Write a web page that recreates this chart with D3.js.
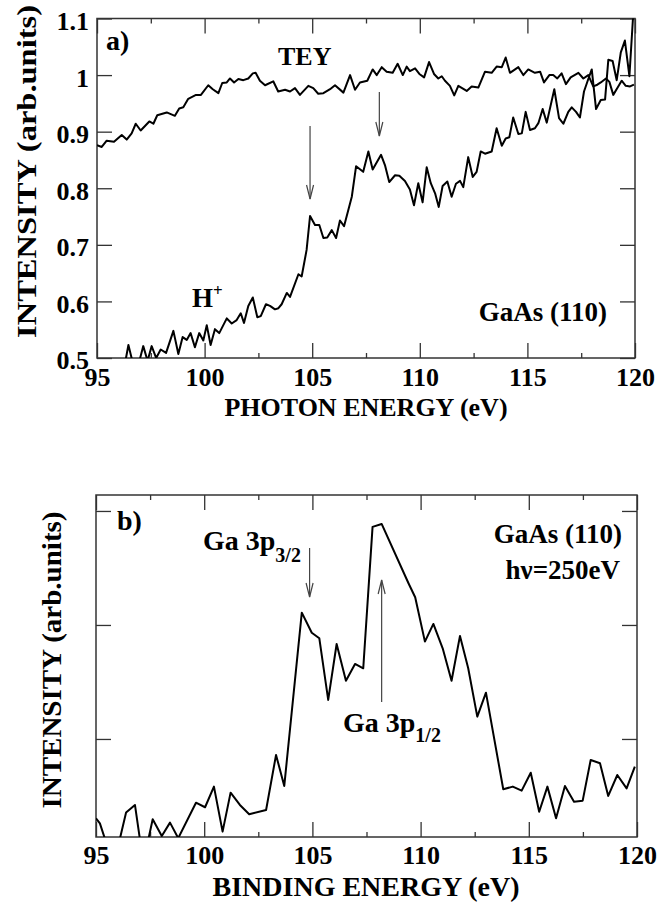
<!DOCTYPE html>
<html><head><meta charset="utf-8">
<script src="https://cdn.jsdelivr.net/npm/d3@7"></script>
<style>
body{margin:0;background:#fff;}
text{font-family:"Liberation Serif","DejaVu Serif",serif;font-weight:bold;fill:#000;}
</style></head>
<body><svg id="c" width="660" height="902"></svg>
<script>
// ---------- Panel a data ----------
const teyE = [95.00,95.22,95.45,95.79,96.15,96.38,96.61,96.80,97.03,97.43,97.62,97.80,98.24,98.62,98.82,99.01,99.24,99.60,99.83,100.17,100.38,100.64,100.82,101.03,101.18,101.37,101.57,101.80,102.03,102.24,102.37,102.57,102.81,103.19,103.42,103.74,103.97,104.20,104.43,104.82,105.05,105.28,105.52,105.83,106.06,106.45,106.76,106.99,107.22,107.56,107.81,108.00,108.23,108.46,108.74,108.97,109.21,109.39,109.54,109.78,109.98,110.20,110.43,110.66,110.86,111.02,111.17,111.40,111.60,111.79,112.18,112.41,112.72,113.03,113.34,113.57,113.81,113.99,114.19,114.58,114.81,115.04,115.35,115.59,115.77,116.02,116.20,116.39,116.59,116.79,117.01,117.37,117.60,117.83,118.06,118.25,118.41,118.65,118.81,118.99,119.18,119.38,119.57,119.77,119.95];
const teyV = [0.876,0.873,0.884,0.882,0.894,0.886,0.897,0.914,0.902,0.918,0.914,0.929,0.934,0.928,0.941,0.943,0.958,0.965,0.965,0.982,0.975,0.968,0.986,0.987,0.994,0.987,0.993,0.991,0.994,1.003,1.004,0.990,0.982,0.989,0.971,0.974,0.971,0.977,0.965,0.981,0.977,0.967,0.968,0.975,0.982,0.969,1.000,0.974,0.987,0.990,1.010,1.000,1.014,1.006,1.004,1.020,1.000,1.015,1.007,1.012,1.002,0.996,1.023,1.002,0.994,0.998,0.990,0.981,0.964,0.981,0.972,0.980,0.978,1.006,1.004,1.015,1.014,1.031,1.004,1.014,1.000,1.010,1.004,1.006,0.987,1.000,1.000,0.994,1.003,0.984,0.996,1.004,0.994,1.000,0.980,0.983,0.987,0.994,0.988,0.965,0.977,0.990,0.981,0.980,0.983];
const hE = [95.00,95.60,96.20,96.46,96.80,97.15,97.35,97.54,97.75,97.96,98.21,98.55,98.78,98.98,99.17,99.35,99.55,99.75,99.94,100.10,100.28,100.48,100.68,101.03,101.26,101.49,101.68,101.83,102.03,102.24,102.45,102.61,102.85,103.04,103.27,103.43,103.58,103.82,103.97,104.36,104.51,104.74,104.90,105.13,105.33,105.52,105.70,105.91,106.11,106.29,106.48,106.84,107.04,107.37,107.61,107.81,108.20,108.38,108.58,108.85,109.05,109.31,109.54,109.73,109.93,110.13,110.32,110.51,110.71,110.88,111.06,111.28,111.48,111.68,111.87,112.02,112.25,112.46,112.64,112.83,113.03,113.34,113.57,113.81,113.99,114.16,114.34,114.58,114.74,114.92,115.12,115.35,115.51,115.71,115.90,116.25,116.47,116.67,116.90,117.06,117.26,117.44,117.63,117.83,117.99,118.19,118.41,118.61,118.76,118.96,119.15,119.34,119.53,119.74,119.90,120.00];
const hV = [0.46,0.45,0.47,0.523,0.47,0.521,0.495,0.521,0.50,0.515,0.509,0.548,0.507,0.537,0.532,0.544,0.519,0.544,0.531,0.558,0.523,0.551,0.544,0.570,0.561,0.567,0.579,0.562,0.592,0.607,0.572,0.574,0.595,0.592,0.586,0.588,0.595,0.615,0.608,0.648,0.644,0.691,0.751,0.735,0.735,0.712,0.713,0.726,0.712,0.743,0.733,0.785,0.839,0.829,0.865,0.833,0.859,0.841,0.811,0.823,0.822,0.813,0.798,0.770,0.809,0.775,0.837,0.809,0.791,0.767,0.804,0.812,0.785,0.808,0.813,0.802,0.855,0.820,0.829,0.865,0.861,0.865,0.906,0.875,0.888,0.890,0.925,0.896,0.897,0.935,0.903,0.906,0.915,0.940,0.916,0.975,0.924,0.914,0.935,0.943,0.935,0.925,0.971,0.993,1.010,0.940,0.956,0.957,1.027,1.025,0.991,1.040,1.061,0.998,1.097,1.130];
const aYTicks = [0.5,0.6,0.7,0.8,0.9,1,1.1];
const aYLabels = ["0.5","0.6","0.7","0.8","0.9","1","1.1"];
const xMajor = [95,100,105,110,115,120];
const xMinor = [97.5,102.5,107.5,112.5,117.5];
const aArrows = [104.9, 108.12];

// ---------- Panel b data ----------
const bE = [95.00,95.18,95.42,95.80,96.11,96.39,96.80,97.03,97.20,97.42,97.62,98.04,98.42,98.80,99.62,100.04,100.45,100.85,101.22,101.65,102.08,102.86,103.32,103.70,104.51,104.97,105.32,105.73,106.12,106.55,106.97,107.35,107.78,108.20,109.44,109.75,110.20,110.59,111.02,111.43,111.82,112.20,112.62,113.02,113.82,114.26,114.67,115.09,115.48,115.86,116.26,116.67,117.09,117.49,117.86,118.29,118.67,119.09,119.52,119.90];
const bV = [0.304,0.260,0.12,0.00,0.13,0.354,0.421,0.12,0.00,0.12,0.296,0.149,0.266,0.13,0.441,0.401,0.582,0.187,0.529,0.421,0.339,0.377,0.860,0.588,2.108,1.932,1.883,1.342,1.833,1.511,1.658,1.620,2.860,2.886,2.366,2.243,1.854,2.009,1.795,1.511,1.904,1.620,1.196,1.406,0.559,0.582,0.547,0.704,0.362,0.582,0.304,0.588,0.450,0.459,0.816,0.787,0.500,0.684,0.567,0.757];
const bYTicks = [1,2,3];
const bArrows = [104.87, 108.2];

const svg = d3.select("#c");
const AX = "#333";

function frame(g, x, y, yTicks, yFmt, id, xPad) {
  const [x0,x1] = x.range(), [y1,y0] = y.range();
  g.append("clipPath").attr("id", id).append("rect")
    .attr("x", x0).attr("y", y0).attr("width", x1-x0).attr("height", y1-y0);
  const style = s => { s.select(".domain").remove(); s.selectAll("line").attr("stroke", AX).attr("stroke-width", 1.3); };
  g.append("g").attr("transform",`translate(0,${y1})`).call(d3.axisBottom(x).tickValues(xMajor).tickSize(-15).tickFormat(d=>d).tickPadding(xPad)).call(style)
    .selectAll("text").attr("font-size",26).attr("fill","#000");
  g.append("g").attr("transform",`translate(0,${y1})`).call(d3.axisBottom(x).tickValues(xMinor).tickSize(-5).tickFormat("")).call(style);
  g.append("g").attr("transform",`translate(0,${y0})`).call(d3.axisTop(x).tickValues(xMajor).tickSize(-15).tickFormat("")).call(style);
  g.append("g").attr("transform",`translate(0,${y0})`).call(d3.axisTop(x).tickValues(xMinor).tickSize(-5).tickFormat("")).call(style);
  const la = g.append("g").attr("transform",`translate(${x0},0)`).call(d3.axisLeft(y).tickValues(yTicks).tickSize(-15).tickFormat(yFmt).tickPadding(8)).call(style);
  la.selectAll("text").attr("font-size",26).attr("fill","#000").attr("dy","0.42em");
  g.append("g").attr("transform",`translate(${x1},0)`).call(d3.axisRight(y).tickValues(yTicks).tickSize(-15).tickFormat("")).call(style);
  g.selectAll("g.tick text").filter(function(){return this.textContent==="";}).remove();
  g.append("rect").attr("x",x0).attr("y",y0).attr("width",x1-x0).attr("height",y1-y0)
    .attr("fill","none").attr("stroke",AX).attr("stroke-width",1.5);
}

function arrow(g, x, y0, y1, down) {
  const tip = down ? y1 : y0;
  const d = down ? -1 : 1;
  g.append("line").attr("x1",x).attr("x2",x).attr("y1",y0).attr("y2",y1).attr("stroke","#444").attr("stroke-width",1.2);
  g.append("path").attr("d",`M${x-3.5},${tip+d*14}L${x},${tip}L${x+3.5},${tip+d*14}`)
    .attr("fill","none").attr("stroke","#444").attr("stroke-width",1.2);
}

// ---------- Panel a ----------
const xa = d3.scaleLinear().domain([95,120]).range([97,635]);
const ya = d3.scaleLinear().domain([0.5,1.1]).range([358,18.5]);
const ga = svg.append("g");
frame(ga, xa, ya, aYTicks, (d,i)=>aYLabels[i], "clipA", 9.5);
const lineA = d3.line().x(d=>xa(d[0])).y(d=>ya(d[1]));
ga.append("path").attr("clip-path","url(#clipA)").attr("d", lineA(teyE.map((e,i)=>[e,teyV[i]])))
  .attr("fill","none").attr("stroke","#000").attr("stroke-width",2).attr("stroke-linejoin","round");
ga.append("path").attr("clip-path","url(#clipA)").attr("d", lineA(hE.map((e,i)=>[e,hV[i]])))
  .attr("fill","none").attr("stroke","#000").attr("stroke-width",2).attr("stroke-linejoin","round");
arrow(ga, xa(aArrows[0]), 126, 199, true);
arrow(ga, xa(aArrows[1]), 92, 136, true);
ga.append("text").attr("x",106).attr("y",50).attr("font-size",28).text("a)");
ga.append("text").attr("x",278).attr("y",65).attr("font-size",26).text("TEY");
const ht = ga.append("text").attr("x",192).attr("y",307).attr("font-size",27);
ht.append("tspan").text("H");
ht.append("tspan").attr("font-size",17).attr("dy",-11).text("+");
ga.append("text").attr("x",607).attr("y",321).attr("font-size",27).attr("text-anchor","end").text("GaAs (110)");
ga.append("text").attr("x",366).attr("y",416).attr("font-size",26).attr("text-anchor","middle").text("PHOTON ENERGY (eV)");
ga.append("text").attr("transform","translate(36,171.5) rotate(-90)").attr("font-size",28).attr("text-anchor","middle")
  .attr("textLength",333).attr("lengthAdjust","spacingAndGlyphs").text("INTENSITY (arb.units)");

// ---------- Panel b ----------
const xb = d3.scaleLinear().domain([95,120]).range([96,637]);
const yb = d3.scaleLinear().domain([0.14,3.14]).range([837,495]);
const gb = svg.append("g");
frame(gb, xb, yb, bYTicks, ()=>"", "clipB", 8.5);
const lineB = d3.line().x(d=>xb(d[0])).y(d=>yb(d[1]));
gb.append("path").attr("clip-path","url(#clipB)").attr("d", lineB(bE.map((e,i)=>[e,bV[i]])))
  .attr("fill","none").attr("stroke","#000").attr("stroke-width",2).attr("stroke-linejoin","round");
arrow(gb, xb(bArrows[0]), 548, 597, true);
arrow(gb, xb(bArrows[1]), 580, 702, false);
gb.append("text").attr("x",117).attr("y",530).attr("font-size",28).text("b)");
const t32 = gb.append("text").attr("x",203).attr("y",550).attr("font-size",28);
t32.append("tspan").text("Ga 3p");
t32.append("tspan").attr("font-size",20).attr("dy",12).text("3/2");
const t12 = gb.append("text").attr("x",343).attr("y",732).attr("font-size",28);
t12.append("tspan").text("Ga 3p");
t12.append("tspan").attr("font-size",20).attr("dy",10).text("1/2");
gb.append("text").attr("x",622).attr("y",543).attr("font-size",27).attr("text-anchor","end").text("GaAs (110)");
gb.append("text").attr("x",620).attr("y",579).attr("font-size",27).attr("text-anchor","end").text("hν=250eV");
gb.append("text").attr("x",366).attr("y",896).attr("font-size",28).attr("text-anchor","middle").text("BINDING ENERGY (eV)");
gb.append("text").attr("transform","translate(61,660) rotate(-90)").attr("font-size",27).attr("text-anchor","middle")
  .attr("textLength",297).attr("lengthAdjust","spacingAndGlyphs").text("INTENSITY (arb.units)");
</script></body></html>
